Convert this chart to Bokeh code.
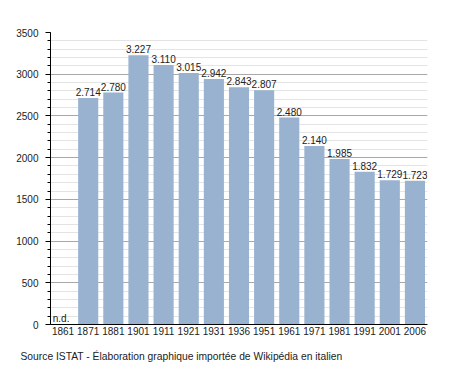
from bokeh.plotting import figure
from bokeh.models import ColumnDataSource, Title, SingleIntervalTicker
from bokeh.core.properties import value
from bokeh.embed import file_html
from bokeh.resources import INLINE

years = ["1861", "1871", "1881", "1901", "1911", "1921", "1931", "1936",
         "1951", "1961", "1971", "1981", "1991", "2001", "2006"]
population = [0, 2714, 2780, 3227, 3110, 3015, 2942, 2843,
              2807, 2480, 2140, 1985, 1832, 1729, 1723]
value_labels = ["n.d.", "2.714", "2.780", "3.227", "3.110", "3.015", "2.942", "2.843",
                "2.807", "2.480", "2.140", "1.985", "1.832", "1.729", "1.723"]
source_note = "Source ISTAT - Élaboration graphique importée de Wikipédia en italien"

FONT = "Liberation Sans"

src = ColumnDataSource(dict(x=years[1:], top=population[1:], label=value_labels[1:]))
nd = ColumnDataSource(dict(x=years[:1], y=population[:1], label=value_labels[:1]))

p = figure(x_range=years, y_range=(0, 3500), width=450, height=373,
           output_backend="svg", toolbar_location=None,
           min_border_left=50, min_border_right=23, min_border_top=32, min_border_bottom=49)
p.outline_line_color = None
p.x_range.range_padding = 0

p.vbar(x="x", top="top", width=0.8, source=src, fill_color="#98b2cf", line_color=None)
p.text(x="x", y="top", text="label", source=src, text_align="center",
       text_baseline="bottom", y_offset=-2, text_font=value(FONT),
       text_font_size="10px", text_color="#222222")
p.text(x="x", y="y", text="label", source=nd, text_align="center",
       text_baseline="bottom", y_offset=-1, x_offset=-2, text_font=value(FONT),
       text_font_size="10px", text_color="#222222")

# y axis
p.yaxis.ticker = SingleIntervalTicker(interval=500, num_minor_ticks=5)
p.yaxis.axis_line_color = "black"
p.yaxis.major_tick_line_color = "black"
p.yaxis.minor_tick_line_color = "black"
p.yaxis.major_tick_out = 5
p.yaxis.major_tick_in = 0
p.yaxis.minor_tick_out = 3
p.yaxis.minor_tick_in = 0
p.yaxis.major_label_text_font = FONT
p.yaxis.major_label_text_font_size = "10px"
p.yaxis.major_label_text_color = "#222222"
p.yaxis.major_label_standoff = 7

p.ygrid.grid_line_color = "#a8a8a8"
p.ygrid.minor_grid_line_color = "#e4e4e4"

# x axis
p.xaxis.axis_line_color = "black"
p.xaxis.major_tick_line_color = None
p.xaxis.minor_tick_line_color = None
p.xaxis.major_tick_out = 0
p.xaxis.major_tick_in = 0
p.xaxis.major_label_text_font = FONT
p.xaxis.major_label_text_font_size = "10px"
p.xaxis.major_label_text_color = "#222222"
p.xaxis.major_label_standoff = 2
p.xgrid.grid_line_color = None

p.add_layout(Title(text=source_note, align="left", offset=-30, standoff=23,
                   text_font=FONT, text_font_size="10.3px", text_font_style="normal",
                   text_color="#222222"), "below")

open("out.html", "w").write(file_html(p, INLINE))
